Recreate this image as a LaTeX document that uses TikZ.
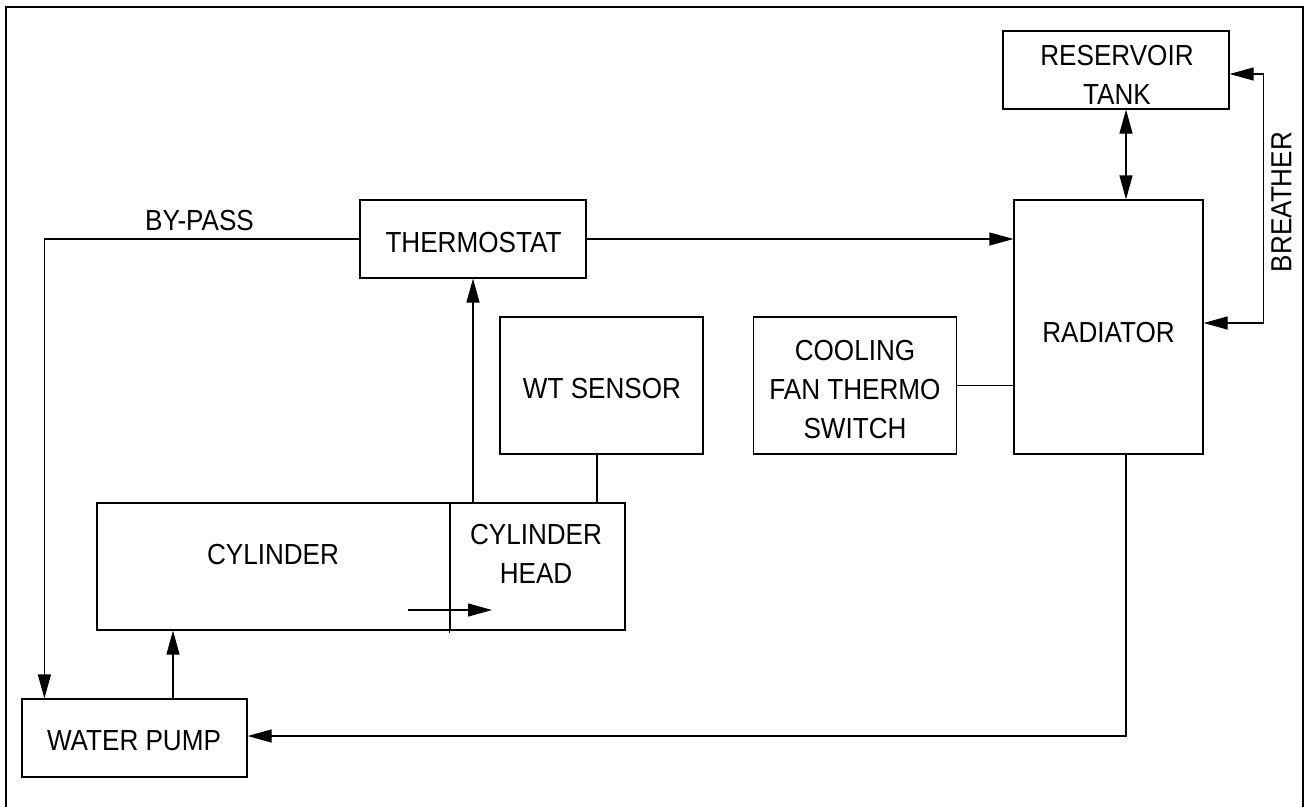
\documentclass[tikz,border=0pt]{standalone}
\usepackage{fontspec}
\setmainfont[FakeStretch=0.9]{Liberation Sans}
\usetikzlibrary{arrows.meta}
\tikzset{
  box/.style={draw, line width=1.2pt, rectangle, inner sep=0pt},
  lbl/.style={inner sep=0pt, align=center, font=\fontsize{29}{39}\selectfont},
  wire/.style={line width=1.2pt},
  arr/.style={wire, -{Triangle[length=24pt,width=13pt]}},
  darr/.style={wire, {Triangle[length=24pt,width=13pt]}-{Triangle[length=24pt,width=13pt]}},
}
\begin{document}
\begin{tikzpicture}[x=1pt,y=-1pt]
\useasboundingbox (0,0) rectangle (1305,806);
% frame
\draw[line width=1.2pt] (6,815) -- (6,7) -- (1303,7) -- (1303,815);
% boxes
\node[box, minimum width=226pt, minimum height=78pt] (res) at (1116,70) {};
\node[box, minimum width=189pt, minimum height=254pt] (rad) at (1108.5,327) {};
\node[box, minimum width=226pt, minimum height=78pt] (thermo) at (473,239) {};
\node[box, minimum width=203pt, minimum height=137pt] (wt) at (601.5,385.5) {};
\node[box, minimum width=203pt, minimum height=137pt] (fan) at (855,385.5) {};
\node[box, minimum width=353pt, minimum height=127pt] (cyl) at (273.5,566.5) {};
\node[box, minimum width=175pt, minimum height=127pt] (head) at (537.5,566.5) {};
\node[box, minimum width=225pt, minimum height=78pt] (pump) at (134.5,738) {};
% divider extension
\draw[wire] (head.south west) -- ++(0,2);
% texts
\node[lbl] (restxt) at (1117,75) {RESERVOIR\\TANK};
\node[lbl] (radtxt) at (1108.5,332.5) {RADIATOR};
\node[lbl] (thermotxt) at (473.5,242.5) {THERMOSTAT};
\node[lbl] (wttxt) at (602,389) {WT SENSOR};
\node[lbl] (fantxt) at (855,390) {COOLING\\FAN THERMO\\SWITCH};
\node[lbl] (cyltxt) at (273,555) {CYLINDER};
\node[lbl] (headtxt) at (536,554) {CYLINDER\\HEAD};
\node[lbl] (pumptxt) at (134,740.5) {WATER PUMP};
\node[lbl] (bypass) at (199.5,221) {BY-PASS};
\node[lbl, rotate=90] (breather) at (1281.5,202) {BREATHER};
% connectors
\draw[arr] (thermo.west) -| ([xshift=23pt]pump.north west);
\draw[arr] (thermo.east) -- (thermo.east -| rad.west);
\draw[arr] (thermo.south |- head.north) -- (thermo.south);
\draw[wire] ([xshift=-4.5pt]wt.south) -- ([xshift=-4.5pt]wt.south |- head.north);
\draw[wire] (fan.east) -- (fan.east -| rad.west);
\draw[darr] ([xshift=10pt]res.south) -- ([xshift=10pt]res.south |- rad.north);
\draw[darr] ([yshift=-4pt]res.east) -- ++(34,0) |- ([yshift=4pt]rad.east);
\draw[arr] ([xshift=17.5pt]rad.south) |- ([yshift=2pt]pump.east);
\draw[arr] ([xshift=38.5pt]pump.north) -- ([xshift=38.5pt]pump.north |- cyl.south);
\coordinate (flowa) at (408,610);
\coordinate (flowb) at (492,610);
\draw[arr] (flowa) -- (flowb);
\end{tikzpicture}
\end{document}
